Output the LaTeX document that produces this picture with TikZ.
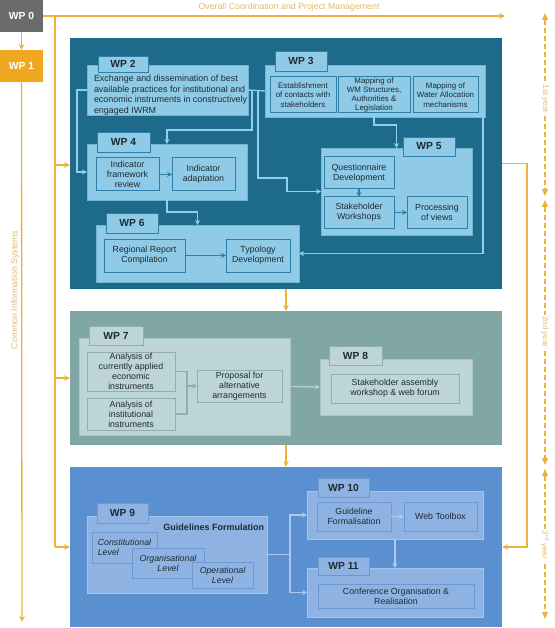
\documentclass[tikz,border=0pt]{standalone}
\usepackage{fontspec}
\setmainfont{Liberation Sans}
\usetikzlibrary{arrows.meta,calc}
\definecolor{cOr}{HTML}{F0A820}
\definecolor{cOrL}{HTML}{EEB23A}
\definecolor{cOrT}{HTML}{E3BC6C}
\definecolor{cGray}{HTML}{6B6B6B}
\definecolor{cDk}{HTML}{1D6A8A}
\definecolor{cDkF}{HTML}{8FCBE6}
\definecolor{cDkB}{HTML}{6DB6D8}
\definecolor{cDkI}{HTML}{2F80A8}
\definecolor{cDkC}{HTML}{8ED0EC}
\definecolor{cGr}{HTML}{80A6A6}
\definecolor{cGrF}{HTML}{BDD5D5}
\definecolor{cGrB}{HTML}{A8C4C4}
\definecolor{cGrI}{HTML}{8EAFAF}
\definecolor{cGrC}{HTML}{B5CFCF}
\definecolor{cBl}{HTML}{5B90D0}
\definecolor{cBlF}{HTML}{8EB3E2}
\definecolor{cBlB}{HTML}{A6C3EA}
\definecolor{cBlI}{HTML}{6D98D0}
\definecolor{cBlC}{HTML}{ADC9EE}
\definecolor{cTx}{HTML}{1E2B33}
\newcommand{\txfont}{\fontsize{8.8}{10}\selectfont}
\newcommand{\smfont}{\fontsize{7.9}{9.2}\selectfont}
\newcommand{\wpfont}{\bfseries\fontsize{10.3}{12}\selectfont}
\newcommand{\bx}[7]{\node[#2,anchor=north west,minimum width={#5-#3},minimum height={#6-#4}] (#1) at (#3,#4) {#7};}
\begin{document}
\begin{tikzpicture}[x=1pt,y=-1pt,
  every node/.style={inner sep=0pt,outer sep=0pt},
  tip/.style={-{Stealth[length=5pt,width=5pt]}},
  orl/.style={draw=cOrL,line width=1.3pt},
  orarr/.style={orl,-{Stealth[length=6pt,width=5.5pt]}},
  yeararr/.style={draw=cOrL,line width=1.2pt,dash pattern=on 5pt off 3pt,{Triangle[length=7pt,width=6pt]}-{Triangle[length=7pt,width=6pt]}},
  orlabel/.style={text=cOrT,font=\fontsize{8.8}{10}\selectfont},
  yearlabel/.style={text=cOrT,font=\fontsize{8}{9}\selectfont,fill=white,inner sep=1.5pt,rotate=-90},
  topbox/.style={text=white,font=\wpfont},
  wpA/.style={fill=cDkF,draw=cDkB,line width=0.8pt},
  tabA/.style={fill=cDkF,draw=cDkI,line width=0.8pt,font=\wpfont,text=cTx},
  inA/.style={fill=cDkF,draw=cDkI,line width=1pt,font=\txfont,align=center,text=cTx},
  smA/.style={inA,font=\smfont},
  conA/.style={draw=cDkC,line width=1.3pt},
  wpB/.style={fill=cGrF,draw=cGrB,line width=0.8pt},
  tabB/.style={fill=cGrF,draw=cGrI,line width=0.8pt,font=\wpfont,text=cTx},
  inB/.style={fill=cGrF,draw=cGrI,line width=1pt,font=\txfont,align=center,text=cTx},
  conB/.style={draw=cGrC,line width=1.3pt},
  wpC/.style={fill=cBlF,draw=cBlB,line width=0.8pt},
  tabC/.style={fill=cBlF,draw=cBlI,line width=0.8pt,font=\wpfont,text=cTx},
  inC/.style={fill=cBlF,draw=cBlI,line width=1pt,font=\txfont,align=center,text=cTx},
  itC/.style={inC,font=\txfont\itshape},
  conC/.style={draw=cBlC,line width=1.3pt}
]
\useasboundingbox (0,0) rectangle (554,628);
\fill[white] (0,0) rectangle (554,628);

% ---- top-left boxes and orange framework
\bx{wp0}{topbox,fill=cGray}{0}{0}{43}{32}{WP 0}
\bx{wp1}{topbox,fill=cOr}{0}{50}{43}{82}{WP 1}
\draw[orarr] (wp0.south) -- (wp1.north);
\coordinate (cisEnd) at (22,622);
\draw[orarr] (wp1.south) -- (cisEnd);
\node[orlabel,rotate=90] (cis) at (15,290) {Common Information Systems};
\coordinate (topEnd) at (505,16);
\draw[orarr] (wp0.east) -- (topEnd);
\node[orlabel] (ocpm) at (289,7) {Overall Coordination and Project Management};

% ---- sections
\bx{dk}{fill=cDk}{70}{38}{502}{289}{}
\bx{gr}{fill=cGr}{70}{311}{502}{445}{}
\bx{bl}{fill=cBl}{70}{467}{502}{627}{}

\coordinate (vtop) at (55,16);
\coordinate (b1) at (55,165);
\coordinate (b2) at (55,378);
\coordinate (b3) at (55,547);
\draw[orl] (vtop) -- (b3);
\draw[orarr] (b1) -- (b1 -| dk.west);
\draw[orarr] (b2) -- (b2 -| gr.west);
\draw[orarr] (b3) -- (b3 -| bl.west);
\draw[orarr] (dk.south) -- (gr.north);
\draw[orarr] (gr.south) -- (bl.north);
\draw[orarr] (dk.east) -- ++(25,0) |- (b3 -| bl.east);

% year axis
\coordinate (y0) at (545,13);
\coordinate (y1) at (545,196);
\coordinate (y2) at (545,200);
\coordinate (y3) at (545,465);
\coordinate (y4) at (545,469);
\coordinate (y5) at (545,619);
\draw[yeararr] (y0) -- (y1);
\draw[yeararr] (y2) -- (y3);
\draw[yeararr] (y4) -- (y5);
\node[yearlabel] (yr1) at (545,99) {1st year};
\node[yearlabel] (yr2) at (545,332) {2nd year};
\node[yearlabel] (yr3) at (545,545) {3\textsuperscript{rd} year};

% ---- dark section
\bx{wp2}{wpA}{87}{65}{248}{115}{}
\bx{t2}{tabA}{98}{56}{148}{72}{WP 2}
\node[anchor=north west,align=left,font=\fontsize{8.95}{10.6}\selectfont,text=cTx] (wp2t) at (94,75)
  {Exchange and dissemination of best\\available practices for institutional and\\economic instruments in constructively\\engaged IWRM};

\bx{wp3}{wpA}{265}{65}{485}{117}{}
\bx{t3}{tabA}{275}{51}{327}{71}{WP 3}
\bx{e1}{smA}{270}{77}{336}{113}{Establishment\\of contacts with\\stakeholders}
\bx{e2}{smA}{338}{77}{410}{113}{Mapping of\\WM Structures,\\Authorities \&\\Legislation}
\bx{e3}{smA}{413}{77}{478}{113}{Mapping of\\Water Allocation\\mechanisms}

\bx{wp4}{wpA}{87}{144}{247}{200}{}
\bx{t4}{tabA}{97}{132}{150}{152}{WP 4}
\bx{r4a}{inA}{96}{158}{159}{191}{Indicator\\framework\\review}
\bx{r4b}{inA}{172}{158}{235}{191}{Indicator\\adaptation}

\bx{wp6}{wpA}{96}{225}{299}{282}{}
\bx{t6}{tabA}{106}{213}{158}{233}{WP 6}
\bx{r6a}{inA}{104}{239}{185}{272}{Regional Report\\Compilation}
\bx{r6b}{inA}{226}{239}{290}{272}{Typology\\Development}

\bx{wp5}{wpA}{321}{148}{472}{235}{}
\bx{t5}{tabA}{403}{137}{455}{156}{WP 5}
\bx{r5a}{inA}{324}{157}{394}{189}{Questionnaire\\Development}
\bx{r5b}{inA}{324}{197}{394}{228}{Stakeholder\\Workshops}
\bx{r5c}{inA}{407}{197}{467}{228}{Processing\\of views}

\coordinate (j1) at (252,90);
\coordinate (j2) at (258,90);
\draw[conA] (wp2.east) -- (wp3.west);
\draw[conA,tip] (wp2.west) -- ++(-10,0) |- (wp4.west);
\draw[conA,tip] (j1) -- (252,130) -| (wp4.north);
\draw[conA,tip] (j2) -- (258,178) -- (287,178) |- (wp5.west);
\draw[conA,tip] (e2.south) -- ++(0,12) -| (wp5.north);
\draw[conA,tip] ([xshift=-2pt]wp3.south east) |- (wp6.east);
\draw[conA,tip] (wp4.south) -- ++(0,12) -| (wp6.north);
\draw[draw=cDkI,line width=1.3pt,tip] (r4a.east) -- (r4b.west);
\draw[draw=cDkI,line width=1.3pt,tip] (r6a.east) -- (r6b.west);
\draw[draw=cDkI,line width=1.3pt,tip] (r5a.south) -- (r5b.north);
\draw[draw=cDkI,line width=1.3pt,tip] (r5b.east) -- (r5c.west);

% ---- grey section
\bx{wp7}{wpB}{79}{338}{290}{435}{}
\bx{t7}{tabB}{89}{326}{143}{345}{WP 7}
\bx{a7}{inB}{87}{352}{175}{391}{Analysis of\\currently applied\\economic\\instruments}
\bx{b7}{inB}{87}{398}{175}{430}{Analysis of\\institutional\\instruments}
\bx{c7}{inB}{197}{370}{282}{402}{Proposal for\\alternative\\arrangements}
\bx{wp8}{wpB}{320}{359}{472}{415}{}
\bx{t8}{tabB}{329}{346}{382}{365}{WP 8}
\bx{a8}{inB}{331}{374}{459}{403}{Stakeholder assembly\\workshop \& web forum}
\coordinate (j7) at (187,386);
\draw[draw=cGrI,line width=1.3pt] (a7.east) -- ++(12,0) |- (b7.east);
\draw[draw=cGrI,line width=1.3pt,tip] (j7) -- (c7.west);
\draw[conB,tip] (wp7.east) -- (wp8.west);

% ---- blue section
\bx{wp9}{wpC}{87}{516}{267}{593}{}
\bx{t9}{tabC}{97}{503}{148}{523}{WP 9}
\node[anchor=east,font=\bfseries\fontsize{9}{10}\selectfont,text=cTx] (gf) at (264,527) {Guidelines Formulation};
\bx{l1}{itC,align=left}{92}{532}{157}{563}{Constitutional\\Level}
\bx{l2}{itC}{132}{548}{204}{578}{Organisational\\Level}
\bx{l3}{itC}{192}{562}{253}{588}{Operational\\Level}

\bx{wp10}{wpC}{307}{491}{483}{539}{}
\bx{t10}{tabC}{318}{478}{369}{497}{WP 10}
\bx{g10}{inC}{317}{502}{391}{531}{Guideline\\Formalisation}
\bx{w10}{inC}{404}{502}{477}{531}{Web Toolbox}
\bx{wp11}{wpC}{307}{568}{483}{617}{}
\bx{t11}{tabC}{318}{557}{369}{575}{WP 11}
\bx{c11}{inC}{318}{584}{474}{608}{Conference Organisation \&\\Realisation}

\coordinate (j9) at (290,554.5);
\draw[conC] (wp9.east) -- (j9);
\draw[conC,tip] (j9) |- (wp10.west);
\draw[conC,tip] (j9) |- (wp11.west);
\draw[conC,tip] (g10.east) -- (w10.west);
\draw[conC,tip] (wp10.south) -- (wp11.north);
\end{tikzpicture}
\end{document}
